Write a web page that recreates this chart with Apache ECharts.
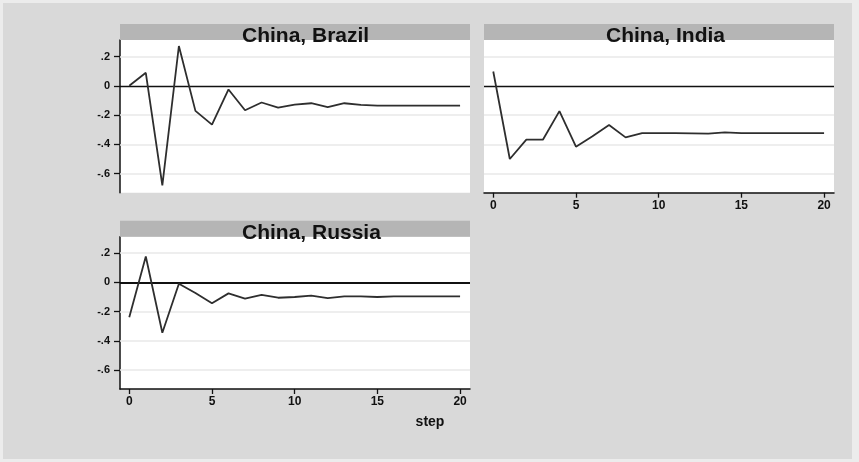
<!DOCTYPE html>
<html><head><meta charset="utf-8">
<script src="https://cdn.jsdelivr.net/npm/echarts@6/dist/echarts.min.js"></script>
<style>html,body{margin:0;padding:0;background:#ececec}#c{width:859px;height:462px}</style>
</head><body><div id="c"></div>
<script>
const steps = [0,1,2,3,4,5,6,7,8,9,10,11,12,13,14,15,16,17,18,19,20];
const brazil = [0.0,0.089,-0.68,0.272,-0.171,-0.265,-0.025,-0.167,-0.114,-0.149,-0.128,-0.119,-0.146,-0.119,-0.130,-0.135,-0.135,-0.135,-0.135,-0.135,-0.135];
const india = [0.098,-0.5,-0.368,-0.368,-0.173,-0.416,-0.345,-0.268,-0.352,-0.323,-0.323,-0.323,-0.325,-0.327,-0.318,-0.323,-0.323,-0.323,-0.323,-0.323,-0.323];
const russia = [-0.239,0.177,-0.345,-0.009,-0.073,-0.143,-0.075,-0.111,-0.086,-0.105,-0.100,-0.091,-0.107,-0.095,-0.095,-0.100,-0.095,-0.095,-0.095,-0.095,-0.095];
const yTicks = [0.2,0,-0.2,-0.4,-0.6];
const yTickLabels = ['.2','0','-.2','-.4','-.6'];
const xTicks = [0,5,10,15,20];
const panelTitles = ['China, Brazil','China, India','China, Russia'];
const xName = 'step';

const FONT = '"Liberation Sans", Arial, sans-serif';
const panels = [
  {left:120, top:40, width:350, height:152.7, data:brazil, showY:true, showX:false},
  {left:484, top:40, width:350, height:152.7, data:india, showY:false, showX:true},
  {left:120, top:236.7, width:350, height:152.3, data:russia, showY:true, showX:true}
];
const grid=[], xAxis=[], yAxis=[], series=[], graphic=[];
graphic.push({type:'rect', z:-10, shape:{x:3,y:3,width:849,height:456}, style:{fill:'#d9d9d9'}});
panels.forEach((p,i)=>{
  grid.push({left:p.left, top:p.top, width:p.width, height:p.height, show:true, backgroundColor:'#ffffff', borderWidth:0});
  xAxis.push({type:'value', gridIndex:i, min:-0.56, max:20.6,
    axisLine:{show:p.showX, onZero:false, lineStyle:{color:'#111', width:1.5}},
    axisTick:{show:p.showX, customValues:xTicks, length:5, lineStyle:{color:'#111', width:1.3}},
    axisLabel:{show:p.showX, customValues:xTicks, color:'#111', fontFamily:FONT, fontWeight:'bold', fontSize:12, margin:7},
    splitLine:{show:false}});
  yAxis.push({type:'value', gridIndex:i, min:-0.73, max:0.313,
    axisLine:{show:p.showY, onZero:false, lineStyle:{color:'#111', width:1.5}},
    axisTick:{show:p.showY, customValues:yTicks, length:6, lineStyle:{color:'#111', width:1.3}},
    axisLabel:{show:p.showY, customValues:yTicks, color:'#111', fontFamily:FONT, fontWeight:'bold', fontSize:11, margin:10,
      formatter:v=>{const k=yTicks.findIndex(t=>Math.abs(t-v)<1e-9);return k>=0?yTickLabels[k]:'';}},
    splitLine:{show:false}});
  series.push({type:'line', xAxisIndex:i, yAxisIndex:i, data:steps.map((s,j)=>[s,p.data[j]]),
    symbol:'none', lineStyle:{color:'#2e2e2e', width:1.8}, silent:true, z:10,
    markLine:{z:1, silent:true, symbol:'none', label:{show:false}, animation:false,
      data:yTicks.filter(t=>t!==0).map(t=>({yAxis:t, lineStyle:{color:'#e9e9e9', width:1.5, type:'solid'}}))
        .concat([{yAxis:0, lineStyle:{color:'#111', width: i===2?2:1.3, type:'solid'}}])}});
  graphic.push({type:'rect', z:5, shape:{x:p.left, y:p.top-16, width:p.width, height:16}, style:{fill:'#b5b5b5'}});
  graphic.push({type:'text', z:6, x:p.left+122, y:p.top+7, style:{text:panelTitles[i], fill:'#111', font:'bold 21px '+FONT, textAlign:'left', textVerticalAlign:'bottom'}});
});
graphic.push({type:'text', z:6, x:430, y:422, style:{text:xName, fill:'#111', font:'bold 14px '+FONT, textAlign:'center', textVerticalAlign:'middle'}});
const chart = echarts.init(document.getElementById('c'), null, {renderer:'canvas'});
chart.setOption({backgroundColor:'#ececec', animation:false, grid, xAxis, yAxis, series, graphic});
</script></body></html>
